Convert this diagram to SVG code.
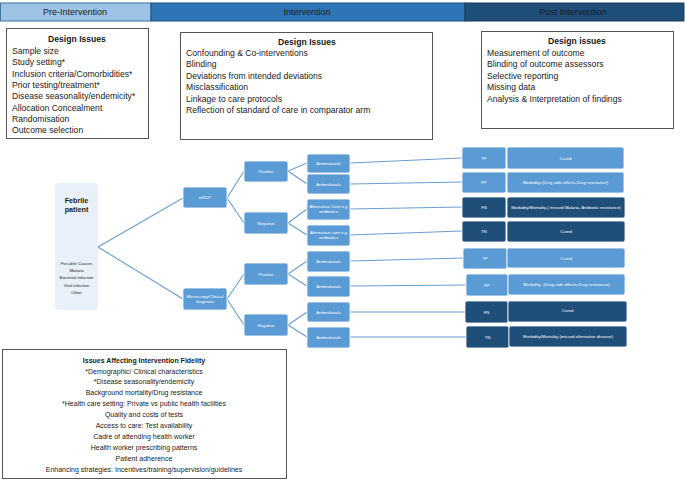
<svg xmlns="http://www.w3.org/2000/svg" width="685" height="480" viewBox="0 0 685 480">
<style>
text{font-family:"Liberation Sans",Arial,sans-serif;fill:#1a1a1a}
.hdr{font-size:9px;text-anchor:middle}
.box{fill:#fff;stroke:#555;stroke-width:1}
.ttl{font-size:8.6px;font-weight:bold;text-anchor:middle}
.li{font-size:8.6px}
.fl{font-size:7px;text-anchor:middle}
.flt{font-size:7.2px;font-weight:bold;text-anchor:middle}
.nd{fill:#5B9BD5;stroke:#fff;stroke-width:0.8}
.dk{fill:#1F4E79;stroke:#fff;stroke-width:0.8}
.nt{font-size:4.3px;fill:#fff;text-anchor:middle}
.con{stroke:#6A9ECF;stroke-width:1.1;fill:none}
</style>
<g id="hdr-pre"><rect x="0.5" y="3" width="150.5" height="18" fill="#9DC3E6" stroke="#41719C"/><text class="hdr" x="75" y="15">Pre-Intervention</text></g>
<g id="hdr-int"><rect x="151" y="3" width="314" height="18" fill="#2E75B6" stroke="#1F4E79"/><text class="hdr" x="307" y="15">Intervention</text></g>
<g id="hdr-post"><rect x="465" y="3" width="219" height="18" fill="#1F4E79" stroke="#1a3d60"/><text class="hdr" x="573" y="15">Post Intervention</text></g>

<g id="pre-design"><rect class="box" x="6.5" y="28.5" width="142" height="110"/>
<text class="ttl" x="77" y="42">Design Issues</text>
<text class="li" x="12" y="54">Sample size</text>
<text class="li" x="12" y="65">Study setting*</text>
<text class="li" x="12" y="76.5">Inclusion criteria/Comorbidities*</text>
<text class="li" x="12" y="87.5">Prior testing/treatment*</text>
<text class="li" x="12" y="98.5">Disease seasonality/endemicity*</text>
<text class="li" x="12" y="110.5">Allocation Concealment</text>
<text class="li" x="12" y="121.5">Randomisation</text>
<text class="li" x="12" y="133">Outcome selection</text></g>

<g id="int-design"><rect class="box" x="180.5" y="32.5" width="252" height="107"/>
<text class="ttl" x="307" y="45">Design Issues</text>
<text class="li" x="186" y="55.5">Confounding &amp; Co-interventions</text>
<text class="li" x="186" y="67">Blinding</text>
<text class="li" x="186" y="78.5">Deviations from intended deviations</text>
<text class="li" x="186" y="90">Misclassification</text>
<text class="li" x="186" y="101.5">Linkage to care protocols</text>
<text class="li" x="186" y="113">Reflection of standard of care in comparator arm</text></g>

<g id="post-design"><rect class="box" x="481.5" y="31.5" width="192" height="97"/>
<text class="ttl" x="577" y="43.5">Design issues</text>
<text class="li" x="487" y="55.5">Measurement of outcome</text>
<text class="li" x="487" y="67">Blinding of outcome assessors</text>
<text class="li" x="487" y="78.5">Selective reporting</text>
<text class="li" x="487" y="90">Missing data</text>
<text class="li" x="487" y="101.5">Analysis &amp; Interpretation of findings</text></g>

<g id="connectors">
<path class="con" d="M98 247 L183 198 M98 247 L183 299"/>
<path class="con" d="M227 198 L244 171 M227 198 L244 223 M227 299 L244 274 M227 299 L244 325"/>
<path class="con" d="M288 171 L307 163 M288 171 L307 184 M288 223 L307 209 M288 223 L307 235 M288 274 L307 261 M288 274 L307 286 M288 325 L307 312 M288 325 L307 337"/>
<path class="con" d="M350 163 L462 158 M350 184 L462 182 M350 209 L462 207 M350 235 L462 231 M350 261 L463 258 M350 286 L466 285 M350 312 L465 312 M350 337 L466 337"/>
</g>

<g id="febrile"><rect x="55" y="183" width="43" height="127" rx="4" fill="#E8F0F9"/>
<text class="flt" x="76.5" y="203">Febrile</text>
<text class="flt" x="76.5" y="212">patient</text>
<text class="nt" style="fill:#222;font-style:italic" x="76.5" y="265">Possible Causes</text>
<text class="nt" style="fill:#222" x="76.5" y="272">Malaria</text>
<text class="nt" style="fill:#222" x="76.5" y="279">Bacterial infection</text>
<text class="nt" style="fill:#222" x="76.5" y="287">Viral infection</text>
<text class="nt" style="fill:#222" x="76.5" y="294">Other</text></g>

<g id="mrdt"><rect class="nd" x="183" y="187" width="44" height="21" rx="2"/><text class="nt" x="205" y="199">mRDT</text></g>
<g id="micro"><rect class="nd" x="183" y="288" width="44" height="22" rx="2"/><text class="nt" x="205" y="298">Microscopy/Clinical</text><text class="nt" x="205" y="303">diagnosis</text></g>

<g id="pos1"><rect class="nd" x="244" y="161" width="44" height="21" rx="2"/><text class="nt" x="266" y="173">Positive</text></g>
<g id="neg1"><rect class="nd" x="244" y="212" width="44" height="22" rx="2"/><text class="nt" x="266" y="224.5">Negative</text></g>
<g id="pos2"><rect class="nd" x="244" y="263" width="44" height="22" rx="2"/><text class="nt" x="266" y="275.5">Positive</text></g>
<g id="neg2"><rect class="nd" x="244" y="314" width="44" height="22" rx="2"/><text class="nt" x="266" y="326.5">Negative</text></g>

<g id="t1"><rect class="nd" x="307" y="154" width="43" height="19" rx="2"/><text class="nt" x="328.5" y="165">Antimalarials</text></g>
<g id="t2"><rect class="nd" x="307" y="174" width="43" height="20" rx="2"/><text class="nt" x="328.5" y="185.5">Antimalarials</text></g>
<g id="t3"><rect class="nd" x="307" y="199" width="43" height="21" rx="2"/><text class="nt" x="328.5" y="208">Alternative Care e.g</text><text class="nt" x="328.5" y="213">antibiotics</text></g>
<g id="t4"><rect class="nd" x="307" y="225" width="43" height="21" rx="2"/><text class="nt" x="328.5" y="234">Alternative care e.g</text><text class="nt" x="328.5" y="239">antibiotics</text></g>
<g id="t5"><rect class="nd" x="307" y="251" width="43" height="21" rx="2"/><text class="nt" x="328.5" y="263">Antimalarials</text></g>
<g id="t6"><rect class="nd" x="307" y="276" width="43" height="21" rx="2"/><text class="nt" x="328.5" y="288">Antimalarials</text></g>
<g id="t7"><rect class="nd" x="307" y="302" width="43" height="20" rx="2"/><text class="nt" x="328.5" y="313.5">Antimalarials</text></g>
<g id="t8"><rect class="nd" x="307" y="327" width="43" height="21" rx="2"/><text class="nt" x="328.5" y="339">Antimalarials</text></g>

<g id="r1"><rect class="nd" x="462" y="147" width="44" height="22" rx="2"/><text class="nt" x="484" y="159.5">TP</text><rect class="nd" x="507" y="147" width="117" height="22" rx="2"/><text class="nt" x="565.5" y="159.5">Cured</text></g>
<g id="r2"><rect class="nd" x="462" y="172" width="44" height="21" rx="2"/><text class="nt" x="484" y="184">FP</text><rect class="nd" x="507" y="172" width="117" height="21" rx="2"/><text class="nt" x="565.5" y="184">Morbidity-(Drug side effects,Drug resistance)</text></g>
<g id="r3"><rect class="dk" x="462" y="197" width="44" height="21" rx="2"/><text class="nt" x="484" y="209">FN</text><rect class="dk" x="507" y="197" width="118" height="21" rx="2"/><text class="nt" x="566" y="209">Morbidity/Mortality-( missed Malaria, Antibiotic resistance)</text></g>
<g id="r4"><rect class="dk" x="462" y="221" width="44" height="21" rx="2"/><text class="nt" x="484" y="233">TN</text><rect class="dk" x="507" y="221" width="118" height="21" rx="2"/><text class="nt" x="566" y="233">Cured</text></g>
<g id="r5"><rect class="nd" x="463" y="248" width="44" height="21" rx="2"/><text class="nt" x="485" y="260">TP</text><rect class="nd" x="507" y="248" width="118" height="20" rx="2"/><text class="nt" x="566" y="259.5">Cured</text></g>
<g id="r6"><rect class="nd" x="466" y="274" width="42" height="22" rx="2"/><text class="nt" x="487" y="286.5">FP</text><rect class="nd" x="508" y="274" width="117" height="21" rx="2"/><text class="nt" x="566.5" y="286">Morbidity -(Drug side effects,Drug resistance)</text></g>
<g id="r7"><rect class="dk" x="465" y="301" width="43" height="22" rx="2"/><text class="nt" x="486.5" y="313.5">FN</text><rect class="dk" x="508" y="301" width="119" height="21" rx="2"/><text class="nt" x="567.5" y="312">Cured</text></g>
<g id="r8"><rect class="dk" x="466" y="326" width="43" height="22" rx="2"/><text class="nt" x="487.5" y="338.5">TN</text><rect class="dk" x="509" y="326" width="118" height="21" rx="2"/><text class="nt" x="568" y="338">Morbidity/Mortality-(missed alternative disease)</text></g>

<g id="fidelity"><rect class="box" x="2.5" y="349.5" width="284" height="129"/>
<text class="fl" style="font-weight:bold" x="144" y="363">Issues Affecting Intervention Fidelity</text>
<text class="fl" x="144" y="373.5">*Demographic/ Clinical characteristics</text>
<text class="fl" x="144" y="384">*Disease seasonality/endemicity</text>
<text class="fl" x="144" y="395">Background mortality/Drug resistance</text>
<text class="fl" x="144" y="406">*Health care setting: Private vs public health facilities</text>
<text class="fl" x="144" y="416.5">Quality and costs of tests</text>
<text class="fl" x="144" y="427.5">Access to care: Test availability</text>
<text class="fl" x="144" y="438.5">Cadre of attending health worker</text>
<text class="fl" x="144" y="449.5">Health worker prescribing patterns</text>
<text class="fl" x="144" y="460.5">Patient adherence</text>
<text class="fl" x="144" y="472">Enhancing strategies: Incentives/training/supervision/guidelines</text></g>
</svg>
